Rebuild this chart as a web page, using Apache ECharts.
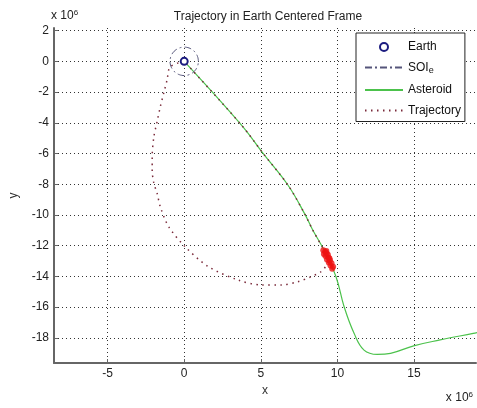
<!DOCTYPE html>
<html>
<head>
<meta charset="utf-8">
<script src="https://cdn.jsdelivr.net/npm/echarts@6/dist/echarts.min.js"></script>
<style>
  html, body { margin: 0; padding: 0; background: #fff; }
  #chart { width: 477px; height: 408px; }
</style>
</head>
<body>
<div id="chart"></div>
<script>
// all positions in units of 1e6 (km)
const xTicks = [-5, 0, 5, 10, 15];
const yTicks = [-18, -16, -14, -12, -10, -8, -6, -4, -2, 0, 2];

const earthPos = [0, 0];
const soiRadius = 0.925;

const asteroidX = [0, 3.74, 5.15, 6.77, 7.85, 8.39, 9.13, 9.91, 10.44, 11.09, 11.74, 12.61, 13.47, 14.98, 16.71, 18.87, 19.3];
const asteroidY = [0, -4.15, -5.99, -8.05, -9.90, -10.98, -12.29, -14.02, -15.98, -17.71, -18.80, -19.08, -19.01, -18.52, -18.14, -17.71, -17.62];

// outbound leg: loop to the left and down, then rendezvous; return leg along the asteroid path
const trajX = [0, -0.91, -1.12, -1.34, -1.56, -1.77, -1.98, -2.09, -2.09, -1.98, -1.77, -1.56, -1.01, 0.06, 1.58, 3.53, 5.04, 6.34, 7.42, 8.29, 8.93, 9.25, 9.45, 9.13, 8.39, 7.85, 6.77, 5.15, 3.74, 0];
const trajY = [0, -0.35, -1.22, -2.08, -2.96, -3.93, -4.91, -6.21, -7.08, -7.94, -8.59, -9.47, -10.77, -12.07, -13.37, -14.24, -14.56, -14.56, -14.35, -14.02, -13.70, -13.33, -12.9, -12.29, -10.98, -9.90, -8.05, -5.99, -4.15, 0];

const rendezvousX = [9.08, 9.20, 9.12, 9.30, 9.22, 9.38, 9.42, 9.32, 9.52, 9.44, 9.62, 9.55, 9.72, 9.66, 9.28, 9.48];
const rendezvousY = [-12.30, -12.40, -12.55, -12.50, -12.68, -12.60, -12.78, -12.90, -12.95, -13.10, -13.15, -13.30, -13.38, -13.50, -12.35, -12.82];

const xMin = -8.5, xMax = 19.05;
const yMin = -19.64, yMax = 2.17;

const zip = (xs, ys) => xs.map((x, i) => [x, ys[i]]);

const soiData = [];
for (let a = 0; a <= 360; a += 10) {
  const t = a * Math.PI / 180;
  soiData.push([earthPos[0] + soiRadius * Math.cos(t), earthPos[1] + soiRadius * Math.sin(t)]);
}

const myChart = echarts.init(document.getElementById('chart'), null, { renderer: 'canvas' });
const font = 'Liberation Sans, Arial, sans-serif';
const gridLine = { show: true, lineStyle: { color: '#333', width: 1, type: [1, 3] } };
const noSymbol = { opacity: 0 };
const times = {
  text: '{a|x 10}{b|6}',
  rich: {
    a: { fontSize: 12, fill: '#222', fontFamily: font, padding: [6, 0, 0, 0] },
    b: { fontSize: 8, fill: '#222', fontFamily: font }
  }
};

myChart.setOption({
  animation: false,
  backgroundColor: '#fff',
  textStyle: { fontFamily: font },
  title: {
    text: 'Trajectory in Earth Centered Frame',
    left: 263, textAlign: 'center', top: 6,
    textStyle: { fontSize: 12, fontWeight: 'normal', color: '#222', fontFamily: font }
  },
  grid: { left: 51, right: 1, top: 28, bottom: 45, containLabel: false },
  xAxis: {
    type: 'value', min: xMin, max: xMax,
    name: 'x', nameLocation: 'middle', nameGap: 22,
    nameTextStyle: { fontSize: 12, color: '#333' },
    axisLine: { show: true, onZero: false, lineStyle: { color: '#666', width: 2 } },
    axisTick: { show: true, inside: true, length: 4, customValues: xTicks, lineStyle: { color: '#666' } },
    axisLabel: { customValues: xTicks, margin: 5, fontSize: 12, color: '#222' },
    splitLine: gridLine
  },
  yAxis: {
    type: 'value', min: yMin, max: yMax,
    name: 'y', nameLocation: 'middle', nameGap: 34, nameRotate: 90,
    nameTextStyle: { fontSize: 12, color: '#333' },
    axisLine: { show: true, onZero: false, lineStyle: { color: '#666', width: 2 } },
    axisTick: { show: true, inside: true, length: 4, customValues: yTicks, lineStyle: { color: '#666' } },
    axisLabel: { customValues: yTicks, margin: 5, fontSize: 12, color: '#222' },
    splitLine: gridLine
  },
  legend: {
    orient: 'vertical', left: 356, top: 33,
    padding: [8, 4, 5, 8], itemGap: 8.5, itemWidth: 38, itemHeight: 10,
    backgroundColor: '#fff', borderColor: '#222', borderWidth: 1,
    data: [
      { name: 'Earth' },
      { name: 'SOI', itemStyle: noSymbol },
      { name: 'Asteroid', itemStyle: noSymbol },
      { name: 'Trajectory', itemStyle: noSymbol }
    ],
    formatter: (name) => name === 'SOI' ? '{n|SOI}{s|e}' : name,
    textStyle: {
      fontSize: 12, color: '#111', fontFamily: font,
      rich: { n: { fontSize: 12, color: '#111' }, s: { fontSize: 9, color: '#111', padding: [7, 0, 0, 0] } }
    }
  },
  series: [
    {
      name: 'Earth', type: 'line', data: [earthPos], symbol: 'circle', symbolSize: 7,
      itemStyle: { color: '#fff', borderColor: '#1c1c80', borderWidth: 2 },
      lineStyle: { width: 0 }, z: 5
    },
    {
      name: 'SOI', type: 'line', data: soiData, symbol: 'none', smooth: true,
      itemStyle: { color: '#444466' },
      lineStyle: { color: '#55557a', width: 1, type: [7, 3, 2, 3] }, z: 4
    },
    {
      name: 'Asteroid', type: 'line', data: zip(asteroidX, asteroidY), symbol: 'none', smooth: 0.4,
      itemStyle: { color: '#4cc24c' },
      lineStyle: { color: '#4cc24c', width: 1.2 }, z: 2
    },
    {
      name: 'Trajectory', type: 'line', data: zip(trajX, trajY), symbol: 'none', smooth: 0.3,
      itemStyle: { color: '#7a2a3a' },
      lineStyle: { color: '#7a2a3a', width: 1.5, type: [1.5, 4.5] }, z: 3
    },
    {
      name: 'Rendezvous', type: 'scatter', data: zip(rendezvousX, rendezvousY), symbol: 'circle', symbolSize: 6,
      itemStyle: { color: '#ee1111' }, z: 6
    }
  ],
  graphic: [
    { type: 'text', left: 51, top: 9, style: times },
    { type: 'text', right: 4, top: 391, style: times }
  ]
});
</script>
</body>
</html>
